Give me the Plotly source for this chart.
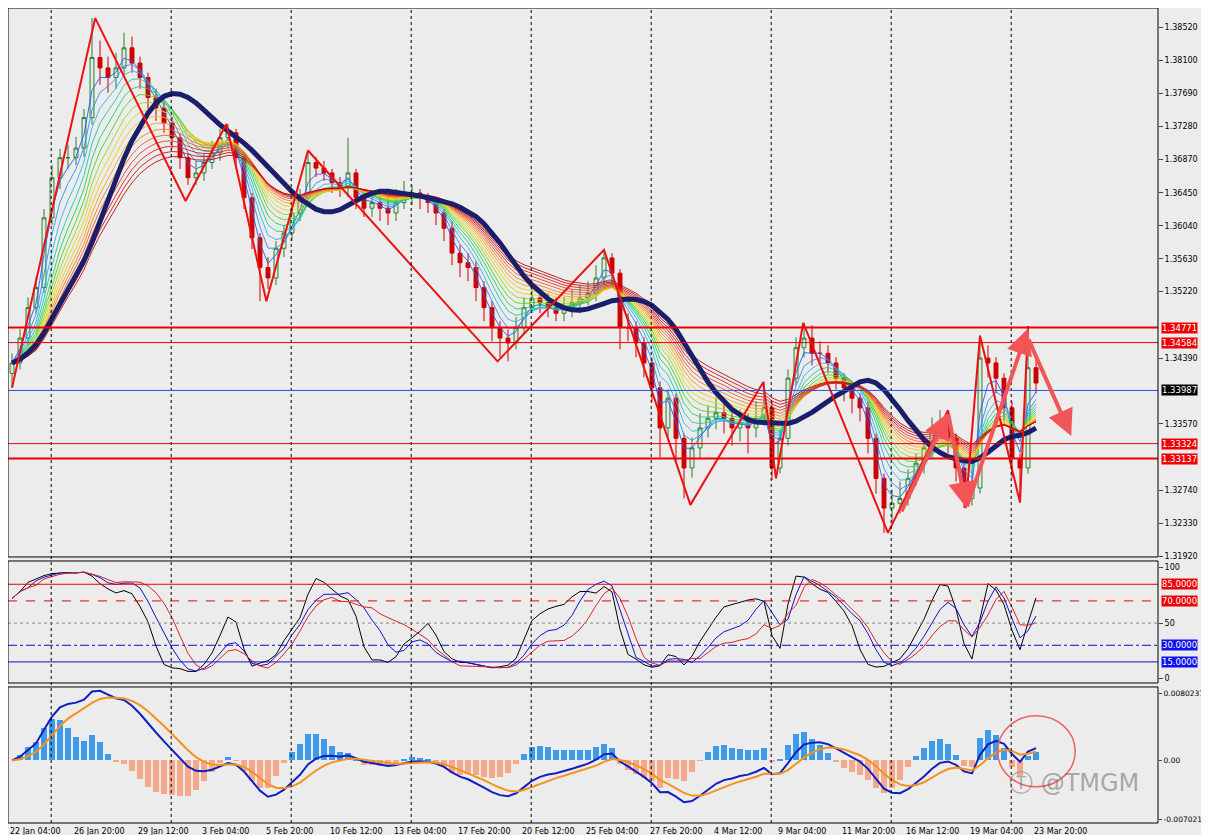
import numpy as np
import plotly.graph_objects as go

# ---------------- data (2 x H4 bars per candle) ----------------
closes = [1.3433,1.3464,1.3502,1.3527,1.3614,1.3664,1.3689,1.3689,1.3701,1.3739,
          1.3814,1.3801,1.3789,1.3801,1.3826,1.3807,1.3789,1.3764,1.3751,1.3732,
          1.3714,1.3689,1.3664,1.3670,1.3683,1.3695,1.3714,1.3720,1.3689,1.3639,
          1.3589,1.3552,1.3539,1.3576,1.3595,1.3620,1.3639,1.3683,1.3676,1.3670,
          1.3658,1.3651,1.3670,1.3639,1.3626,1.3633,1.3626,1.3620,1.3633,1.3645,
          1.3645,1.3639,1.3633,1.3620,1.3601,1.3570,1.3558,1.3552,1.3527,1.3502,
          1.3477,1.3464,1.3458,1.3477,1.3502,1.3514,1.3508,1.3502,1.3495,1.3502,
          1.3508,1.3514,1.3520,1.3539,1.3564,1.3545,1.3477,1.3477,1.3458,1.3433,
          1.3402,1.3352,1.3389,1.3339,1.3302,1.3327,1.3352,1.3364,1.3371,1.3364,
          1.3352,1.3358,1.3352,1.3364,1.3377,1.3302,1.3339,1.3414,1.3452,1.3464,
          1.3445,1.3445,1.3433,1.3414,1.3402,1.3389,1.3377,1.3339,1.3289,1.3252,
          1.3258,1.3264,1.3289,1.3308,1.3327,1.3352,1.3358,1.3339,1.3302,1.3264,
          1.3277,1.3439,1.3433,1.3414,1.3377,1.3314,1.3302,1.3427,1.3408]
highs = [1.3445,1.3475,1.3515,1.3540,1.3625,1.3680,1.3700,1.3705,1.3715,1.3750,
         1.3863,1.3835,1.3815,1.3820,1.3845,1.3840,1.3815,1.3795,1.3775,1.3760,
         1.3740,1.3720,1.3695,1.3685,1.3695,1.3710,1.3725,1.3731,1.3725,1.3695,
         1.3645,1.3595,1.3565,1.3585,1.3605,1.3630,1.3650,1.3698,1.3690,1.3685,
         1.3675,1.3665,1.3714,1.3675,1.3650,1.3645,1.3645,1.3640,1.3650,1.3660,
         1.3655,1.3650,1.3645,1.3640,1.3625,1.3610,1.3580,1.3570,1.3560,1.3535,
         1.3510,1.3485,1.3475,1.3490,1.3515,1.3530,1.3525,1.3520,1.3515,1.3515,
         1.3525,1.3530,1.3535,1.3555,1.3574,1.3570,1.3550,1.3495,1.3485,1.3465,
         1.3440,1.3410,1.3400,1.3395,1.3345,1.3340,1.3370,1.3380,1.3390,1.3385,
         1.3375,1.3375,1.3370,1.3385,1.3410,1.3385,1.3350,1.3425,1.3465,1.3483,
         1.3480,1.3460,1.3455,1.3440,1.3420,1.3410,1.3395,1.3385,1.3345,1.3295,
         1.3275,1.3285,1.3300,1.3320,1.3340,1.3365,1.3374,1.3365,1.3345,1.3310,
         1.3300,1.3467,1.3455,1.3440,1.3420,1.3385,1.3320,1.3479,1.3440]
lows = [1.3402,1.3425,1.3455,1.3495,1.3520,1.3605,1.3650,1.3675,1.3680,1.3690,
        1.3730,1.3780,1.3770,1.3775,1.3790,1.3795,1.3775,1.3750,1.3735,1.3720,
        1.3700,1.3675,1.3655,1.3655,1.3660,1.3675,1.3685,1.3700,1.3675,1.3625,
        1.3575,1.3510,1.3525,1.3530,1.3565,1.3585,1.3610,1.3630,1.3665,1.3660,
        1.3645,1.3640,1.3640,1.3625,1.3615,1.3615,1.3610,1.3605,1.3610,1.3625,
        1.3630,1.3625,1.3620,1.3605,1.3585,1.3555,1.3540,1.3535,1.3510,1.3485,
        1.3460,1.3440,1.3435,1.3450,1.3470,1.3495,1.3495,1.3490,1.3485,1.3485,
        1.3490,1.3495,1.3505,1.3510,1.3530,1.3530,1.3450,1.3460,1.3440,1.3415,
        1.3385,1.3315,1.3340,1.3310,1.3264,1.3290,1.3315,1.3340,1.3350,1.3345,
        1.3330,1.3335,1.3320,1.3340,1.3355,1.3287,1.3295,1.3330,1.3405,1.3440,
        1.3430,1.3430,1.3420,1.3400,1.3385,1.3370,1.3360,1.3320,1.3270,1.3221,
        1.3235,1.3245,1.3255,1.3280,1.3295,1.3315,1.3340,1.3320,1.3285,1.3252,
        1.3255,1.3270,1.3415,1.3395,1.3360,1.3290,1.3259,1.3295,1.3395]
first_open = 1.3420

time_labels = ["22 Jan 04:00","26 Jan 20:00","29 Jan 12:00","3 Feb 04:00","5 Feb 20:00",
               "10 Feb 12:00","13 Feb 04:00","17 Feb 20:00","20 Feb 12:00","25 Feb 04:00",
               "27 Feb 20:00","4 Mar 12:00","9 Mar 04:00","11 Mar 20:00","16 Mar 12:00",
               "19 Mar 04:00","23 Mar 20:00"]

price_ticks = [1.38520,1.38100,1.37690,1.37280,1.36870,1.36450,1.36040,1.35630,1.35220,
               1.34390,1.33570,1.32740,1.32330,1.31920]
levels_thick = [1.34771, 1.33137]
levels_thin = [1.34584, 1.33324]
level_current = 1.33987

zz_idx = [0,10.4,21.7,26.8,31.8,37,60.7,74,84.8,93.9,95.5,98.9,109.5,117,119.2,121,126,127]
zz_px = [1.3402,1.3863,1.3635,1.3731,1.3510,1.3698,1.3435,1.3574,1.3256,1.3409,1.3289,
         1.3483,1.3221,1.3374,1.3252,1.3467,1.3259,1.3479]

arrow_from_idx = [111.1, 117.0, 119.3, 127.0]
arrow_from_px = [1.3246, 1.3371, 1.3252, 1.3464]
arrow_to_idx = [117.0, 119.3, 127.0, 132.4]
arrow_to_px = [1.3371, 1.3252, 1.3476, 1.3342]

stoch_levels = [85, 70, 50, 30, 15]

# ---------------- computations ----------------
c = np.array(closes); h = np.array(highs); l = np.array(lows)
o = np.concatenate([[first_open], c[:-1]])
n = len(c); x = np.arange(n)

def ema(a, p):
    k = 2 / (p + 1); out = np.empty_like(a); out[0] = a[0]
    for i in range(1, len(a)):
        out[i] = a[i] * k + out[i-1] * (1 - k)
    return out

def sma(a, p):
    out = np.empty_like(a)
    for i in range(len(a)):
        out[i] = a[max(0, i-p+1):i+1].mean()
    return out

bg = "#ececec"
fig = go.Figure()

rainbow = ["#1f5fff","#2a8cff","#2bb5e8","#20c8a0","#1ed35a","#4bd61e","#9ad61a","#d9d81a",
           "#f5c518","#f7a21b","#f57f1e","#f05a22","#e83a22","#d82020","#c81414","#b80f0f"]
for j, col in enumerate(rainbow):
    p = 2.5 + j * 1.3
    fig.add_trace(go.Scatter(x=x, y=ema(c, p), mode="lines", line=dict(color=col, width=0.9),
                             hoverinfo="skip", showlegend=False))
fig.add_trace(go.Scatter(x=x, y=ema(sma(c, 10), 6), mode="lines",
                         line=dict(color="#1b1f6b", width=5), showlegend=False))

fig.add_trace(go.Candlestick(x=x, open=o, high=h, low=l, close=c,
              increasing=dict(line=dict(color="#2f7d32", width=1), fillcolor="#dfe9df"),
              decreasing=dict(line=dict(color="#cc0000", width=1), fillcolor="#cc0000"),
              whiskerwidth=0, showlegend=False, yaxis="y"))

fig.add_trace(go.Scatter(x=zz_idx, y=zz_px, mode="lines", line=dict(color="#ee1111", width=2),
                         showlegend=False))

def stoch(p, s):
    k = np.empty(n)
    for i in range(n):
        hh = h[max(0, i-p+1):i+1].max(); ll = l[max(0, i-p+1):i+1].min()
        k[i] = 100 * (c[i] - ll) / (hh - ll) if hh > ll else 50
    return sma(k, s)
for (p, s, col) in [(9, 2, "#000000"), (12, 3, "#1010cc"), (15, 4, "#dd2222")]:
    fig.add_trace(go.Scatter(x=x, y=stoch(p, s), mode="lines", line=dict(color=col, width=1),
                             showlegend=False, yaxis="y2"))

macd = ema(c, 6) - ema(c, 13)
sig = ema(macd, 5)
hist = (macd - sig) * 2.2
fig.add_trace(go.Bar(x=x, y=hist, marker=dict(color=["#3d9ae8" if v >= 0 else "#f5a98a" for v in hist],
                     line=dict(width=0)), width=0.8, showlegend=False, yaxis="y3"))
fig.add_trace(go.Scatter(x=x, y=macd, mode="lines", line=dict(color="#1020c0", width=2),
                         showlegend=False, yaxis="y3"))
fig.add_trace(go.Scatter(x=x, y=sig, mode="lines", line=dict(color="#f5921e", width=2),
                         showlegend=False, yaxis="y3"))

shapes = []
for k in range(9):
    xv = 4.9 + 15 * k
    shapes.append(dict(type="line", xref="x", yref="paper", x0=xv, x1=xv, y0=0, y1=1,
                       line=dict(color="#000", width=1, dash="dot")))
for lv in levels_thick:
    shapes.append(dict(type="line", xref="paper", yref="y", x0=0, x1=1, y0=lv, y1=lv,
                       line=dict(color="#ee0000", width=2)))
for lv in levels_thin:
    shapes.append(dict(type="line", xref="paper", yref="y", x0=0, x1=1, y0=lv, y1=lv,
                       line=dict(color="#ee0000", width=1)))
shapes.append(dict(type="line", xref="paper", yref="y", x0=0, x1=1, y0=level_current, y1=level_current,
                   line=dict(color="#2255dd", width=1)))
stoch_styles = [("#ee0000","solid"),("#ee0000","dash"),("#888888","dot"),("#1010cc","dashdot"),("#1010cc","solid")]
for lv, (col, d) in zip(stoch_levels, stoch_styles):
    shapes.append(dict(type="line", xref="paper", yref="y2", x0=0, x1=1, y0=lv, y1=lv,
                       line=dict(color=col, width=1, dash=d)))
for (y0, y1) in [(0, 0.1669), (0.1718, 0.3215), (0.3264, 1)]:
    shapes.append(dict(type="rect", xref="paper", yref="paper", x0=0, x1=1, y0=y0, y1=y1,
                       line=dict(color="#000", width=1)))
shapes.append(dict(type="circle", xref="x", yref="y3", x0=123.2, x1=132.9, y0=-0.00316, y1=0.00535,
                   line=dict(color="#f06060", width=1.5)))

ann = []
for a in range(4):
    ann.append(dict(x=arrow_to_idx[a], y=arrow_to_px[a], ax=arrow_from_idx[a], ay=arrow_from_px[a],
                    xref="x", yref="y", axref="x", ayref="y", showarrow=True, arrowhead=2,
                    arrowsize=1.3, arrowwidth=4, arrowcolor="#f25555", text=""))
for i, t in enumerate(time_labels):
    ann.append(dict(x=i * 8 - 0.5, y=0, xref="x", yref="paper", yanchor="top", xanchor="left",
                    yshift=-2, text=t, showarrow=False, font=dict(size=8, color="#000")))
def lab(y, yref, txt, bgc, fc="#fff"):
    ann.append(dict(x=1.003, y=y, xref="paper", yref=yref, xanchor="left", text=txt, showarrow=False,
                    bgcolor=bgc, font=dict(size=8.5, color=fc), borderpad=0))
for lv in levels_thick + levels_thin:
    lab(lv, "y", f"{lv:.5f}", "#ee0000")
lab(level_current, "y", f"{level_current:.5f}", "#000000")
lab(85, "y2", "85.0000", "#ee0000"); lab(70, "y2", "70.0000", "#ee0000")
lab(30, "y2", "30.0000", "#1010ee"); lab(15, "y2", "15.0000", "#1010ee")
ann.append(dict(x=0.985, y=0.03, xref="paper", yref="paper", text="Ⓣ @TMGM", showarrow=False,
                font=dict(size=24, color="rgba(120,120,120,0.6)"), xanchor="right"))

tf = dict(size=8, color="#000", family="DejaVu Sans")
fig.update_layout(
    width=1209, height=835, paper_bgcolor=bg, plot_bgcolor=bg,
    margin=dict(l=0, r=59, t=0, b=20), showlegend=False, bargap=0,
    shapes=shapes, annotations=ann, font=dict(family="DejaVu Sans"),
    xaxis=dict(range=[-0.5, 143.25], showgrid=False, showticklabels=False, rangeslider=dict(visible=False),
               anchor="y3", zeroline=False),
    yaxis=dict(domain=[0.3264, 1], range=[1.3191, 1.38757], side="right", showgrid=False,
               tickvals=price_ticks, ticktext=[f"{v:.5f}" for v in price_ticks], ticks="outside",
               ticklen=4, tickfont=tf, zeroline=False),
    yaxis2=dict(domain=[0.1718, 0.3215], range=[-4, 106], side="right", showgrid=False,
                tickvals=[0, 50, 100], ticks="outside", ticklen=4, tickfont=tf, zeroline=False),
    yaxis3=dict(domain=[0, 0.1669], range=[-0.0075, 0.0088], side="right", showgrid=False,
                tickvals=[-0.007021, 0, 0.0080237], ticktext=["-0.007021", "0.00", "0.0080237"],
                ticks="outside", ticklen=3, tickfont=dict(size=7.5, color="#000", family="DejaVu Sans"),
                zeroline=False),
)
fig.update_traces(xaxis="x")
fig.write_html("out.html")
